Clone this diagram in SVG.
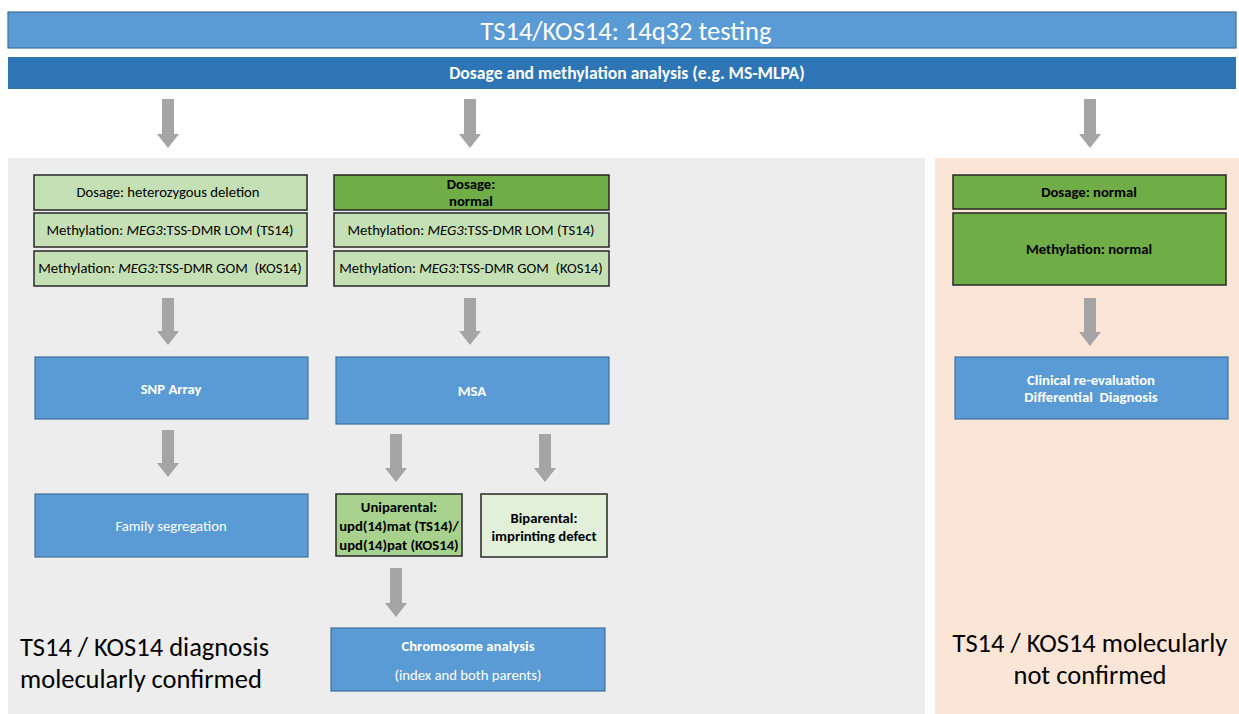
<svg xmlns="http://www.w3.org/2000/svg" width="1239" height="714" viewBox="0 0 1239 714">
<style>
text{font-family:Carlito,"Liberation Sans",Arial,sans-serif;white-space:pre;}
.blue{fill:#5b9bd5;stroke:#41719c;stroke-width:1.2;}
.lg{fill:#c5e0b4;stroke:#262626;stroke-width:1.5;}
.dg{fill:#70ad47;stroke:#262626;stroke-width:1.5;}
.mg{fill:#a9d18e;stroke:#262626;stroke-width:1.5;}
.pg{fill:#e2f0d9;stroke:#262626;stroke-width:1.5;}
.arr{fill:#a5a5a5;}
.wt{fill:#ffffff;font-size:14.7px;text-anchor:middle;}
.wb{fill:#ffffff;font-size:14.7px;font-weight:bold;text-anchor:middle;}
.bt{fill:#000000;font-size:14.7px;text-anchor:middle;}
.bb{fill:#000000;font-size:14.7px;font-weight:bold;text-anchor:middle;}
.big{fill:#000000;font-size:26.5px;}
</style>
<rect x="0" y="0" width="1239" height="714" fill="#ffffff"/>
<rect x="8" y="158" width="917" height="556" fill="#ededed"/>
<rect x="935" y="158" width="304" height="556" fill="#fbe5d6"/>

<g id="title">
<rect x="8" y="12" width="1228" height="36" class="blue"/>
<text x="626" y="40" style="fill:#fff;font-size:26.5px;text-anchor:middle">TS14/KOS14: 14q32 testing</text>
</g>
<g id="dosage-analysis">
<rect x="8" y="57" width="1228" height="32" fill="#2e75b6"/>
<text x="627" y="79" class="wb" style="font-size:17.6px">Dosage and methylation analysis (e.g. MS-MLPA)</text>
</g>

<g id="left-dosage">
<rect x="34" y="175" width="273" height="35" class="lg"/>
<text x="168" y="197" class="bt">Dosage: heterozygous deletion</text>
</g>
<g id="left-lom">
<rect x="34" y="213" width="273" height="34" class="lg"/>
<text x="170" y="235" class="bt">Methylation: <tspan font-style="italic">MEG3</tspan>:TSS-DMR LOM (TS14)</text>
</g>
<g id="left-gom">
<rect x="34" y="251" width="273" height="35" class="lg"/>
<text x="170" y="273" class="bt">Methylation: <tspan font-style="italic">MEG3</tspan>:TSS-DMR GOM  (KOS14)</text>
</g>

<g id="mid-dosage">
<rect x="334" y="175" width="275" height="35" class="dg"/>
<text x="471" y="189" class="bb">Dosage:</text>
<text x="471" y="206" class="bb">normal</text>
</g>
<g id="mid-lom">
<rect x="334" y="213" width="275" height="34" class="lg"/>
<text x="471" y="235" class="bt">Methylation: <tspan font-style="italic">MEG3</tspan>:TSS-DMR LOM (TS14)</text>
</g>
<g id="mid-gom">
<rect x="334" y="251" width="275" height="35" class="lg"/>
<text x="471" y="273" class="bt">Methylation: <tspan font-style="italic">MEG3</tspan>:TSS-DMR GOM  (KOS14)</text>
</g>

<g id="right-dosage">
<rect x="953" y="175" width="273" height="34" class="dg"/>
<text x="1089" y="197" class="bb">Dosage: normal</text>
</g>
<g id="right-methylation">
<rect x="953" y="213" width="273" height="72" class="dg"/>
<text x="1089" y="254" class="bb">Methylation: normal</text>
</g>

<g id="snp-array">
<rect x="35" y="357" width="273" height="62" class="blue"/>
<text x="171" y="394" class="wb">SNP Array</text>
</g>
<g id="msa">
<rect x="336" y="357" width="273" height="67" class="blue"/>
<text x="472" y="396" class="wb">MSA</text>
</g>
<g id="clinical">
<rect x="955" y="357" width="273" height="62" class="blue"/>
<text x="1091" y="385" class="wb">Clinical re-evaluation</text>
<text x="1091" y="402" class="wb">Differential  Diagnosis</text>
</g>

<g id="family-segregation">
<rect x="35" y="494" width="273" height="63" class="blue"/>
<text x="171" y="531" class="wt">Family segregation</text>
</g>
<g id="uniparental">
<rect x="336" y="494" width="126" height="62" class="mg"/>
<text x="399" y="512" class="bb">Uniparental:</text>
<text x="399" y="531" class="bb">upd(14)mat (TS14)/</text>
<text x="399" y="550" class="bb">upd(14)pat (KOS14)</text>
</g>
<g id="biparental">
<rect x="481" y="494" width="126" height="63" class="pg"/>
<text x="544" y="523" class="bb">Biparental:</text>
<text x="544" y="541" class="bb">imprinting defect</text>
</g>
<g id="chromosome">
<rect x="331" y="628" width="274" height="63" class="blue"/>
<text x="468" y="651" class="wb">Chromosome analysis</text>
<text x="468" y="680" class="wt">(index and both parents)</text>
</g>

<g id="left-conclusion">
<text x="20" y="656" class="big">TS14 / KOS14 diagnosis</text>
<text x="20" y="688" class="big">molecularly confirmed</text>
</g>
<g id="right-conclusion">
<text x="1090" y="652" class="big" text-anchor="middle">TS14 / KOS14 molecularly</text>
<text x="1090" y="684" class="big" text-anchor="middle">not confirmed</text>
</g>

<g id="connectors">
<polygon class="arr" points="162,99 174,99 174,134 179,134 168,148 157,134 162,134"/>
<polygon class="arr" points="464,99 476,99 476,134 481,134 470,148 459,134 464,134"/>
<polygon class="arr" points="1084,99 1096,99 1096,134 1101,134 1090,148 1079,134 1084,134"/>
<polygon class="arr" points="162,298 174,298 174,331 179,331 168,345 157,331 162,331"/>
<polygon class="arr" points="464,298 476,298 476,331 481,331 470,345 459,331 464,331"/>
<polygon class="arr" points="1084,298 1096,298 1096,332 1101,332 1090,346 1079,332 1084,332"/>
<polygon class="arr" points="162,430 174,430 174,463 179,463 168,477 157,463 162,463"/>
<polygon class="arr" points="390,434 402,434 402,468 407,468 396,482 385,468 390,468"/>
<polygon class="arr" points="539,434 551,434 551,468 556,468 545,482 534,468 539,468"/>
<polygon class="arr" points="390,568 402,568 402,603 407,603 396,617 385,603 390,603"/>
</g>
</svg>
